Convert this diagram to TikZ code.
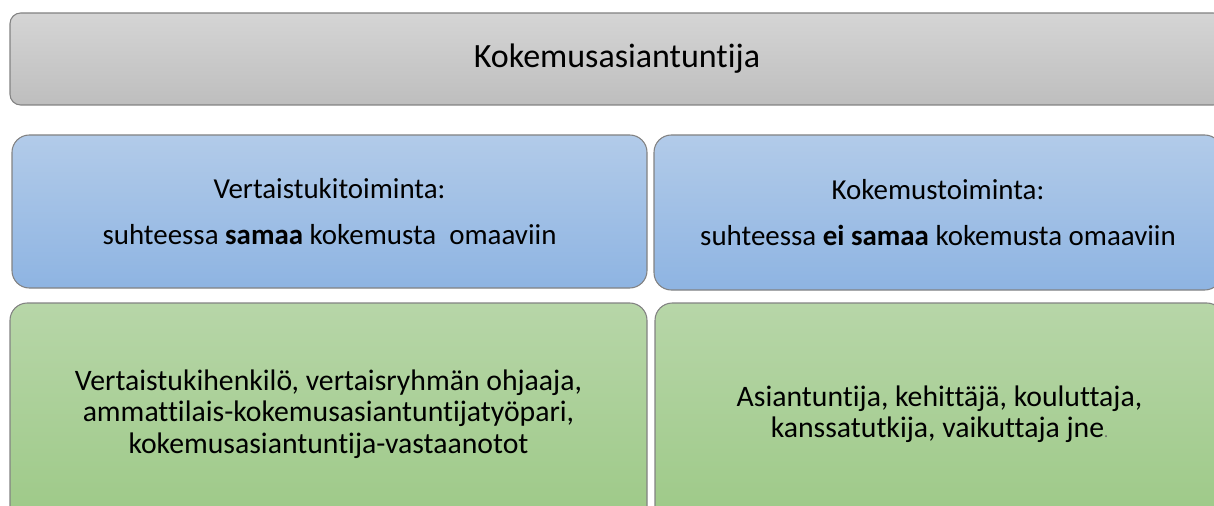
\documentclass[tikz,border=0pt]{standalone}
\usepackage{fontspec}
\setmainfont[Ligatures=NoCommon]{Carlito}
\usepackage{tikz}
\definecolor{greytop}{RGB}{213,213,213}
\definecolor{greybot}{RGB}{190,190,190}
\definecolor{bluetop}{RGB}{178,203,233}
\definecolor{bluebot}{RGB}{142,180,226}
\definecolor{greentop}{RGB}{183,214,168}
\definecolor{greenbot}{RGB}{157,201,135}
\definecolor{edgegrey}{RGB}{130,130,130}
\tikzset{
  panel/.style={draw=edgegrey, line width=0.8pt, rounded corners=13pt,
    align=center, inner sep=0pt, font=\fontsize{21.7}{34}\selectfont},
  headbox/.style={panel, top color=greytop, bottom color=greybot, rounded corners=8pt,
    font=\fontsize{25.5}{30}\selectfont},
  peerbox/.style={panel, top color=bluetop, bottom color=bluebot},
  rolebox/.style={panel, top color=greentop, bottom color=greenbot,
    font=\fontsize{22.3}{23.6}\selectfont},
}
\begin{document}
\begin{tikzpicture}[x=0.75pt,y=-0.75pt]
  \useasboundingbox (0,0) rectangle (1214,506);
  \clip (0,0) rectangle (1214,506);
  % otsikko
  \node[headbox, minimum width=1214*0.75pt, minimum height=92*0.75pt] (kok) at (617,59) {Kokemusasiantuntija};
  % toimintamuodot
  \node[peerbox, minimum width=635*0.75pt, minimum height=153*0.75pt] (vert) at (329.5,211.5)
    {Vertaistukitoiminta:\\ suhteessa \textbf{samaa} kokemusta\ \ omaaviin};
  \node[peerbox, minimum width=568*0.75pt, minimum height=155*0.75pt] (kokt) at (938,212.5)
    {Kokemustoiminta:\\ suhteessa \textbf{ei samaa} kokemusta omaaviin};
  % roolit
  \node[rolebox, minimum width=637*0.75pt, minimum height=222*0.75pt] (vroolit) at (328.5,414)
    {Vertaistukihenkilö, vertaisryhmän ohjaaja,\\ ammattilais-kokemusasiantuntijatyöpari,\\ kokemusasiantuntija-vastaanotot};
  \node[rolebox, minimum width=569*0.75pt, minimum height=222*0.75pt] (kroolit) at (939.5,414)
    {Asiantuntija, kehittäjä, kouluttaja,\\ kanssatutkija, vaikuttaja jne{\fontsize{12}{12}\selectfont\color{black!60}.}};
\end{tikzpicture}
\end{document}
